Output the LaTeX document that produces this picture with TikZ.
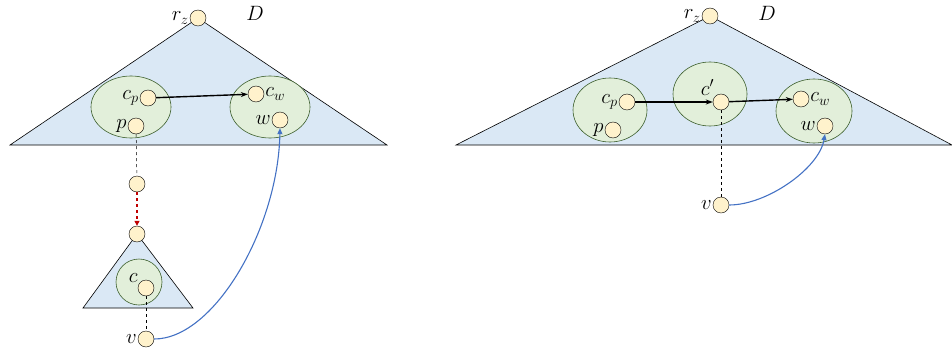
\documentclass[tikz,border=0pt]{standalone}
\usetikzlibrary{arrows.meta}
\definecolor{vfill}{HTML}{FFF2CC}
\definecolor{tfill}{HTML}{DAE8F5}
\definecolor{bfill}{HTML}{E2EFDA}
\definecolor{bdraw}{HTML}{3B5E2B}
\definecolor{curveblue}{HTML}{4472C4}
\definecolor{jumpred}{HTML}{C00000}
\begin{document}
\begin{tikzpicture}[x=1pt, y=-1pt,
    every label/.append style={font=\huge, inner sep=1pt},
    vtx/.style={circle, draw, fill=vfill, minimum size=16pt, inner sep=0pt,
                label distance=2.5pt},
    tri/.style={draw, fill=tfill, line width=0.6pt},
    bag/.style={draw=bdraw, fill=bfill, line width=0.6pt},
    treeedge/.style={-{Stealth[length=7pt,width=5pt]}, line width=1.4pt},
    chain/.style={dashed, line width=0.5pt},
    jump/.style={-{Triangle[length=5pt,width=5pt]}, dashed, line width=1.3pt, draw=jumpred},
    link/.style={-{Triangle[length=6pt,width=5pt]}, line width=1.1pt, draw=curveblue},
    lbl/.style={font=\huge}
]
\useasboundingbox (0,0) rectangle (952,353);

% left picture
\draw[tri] (198,18) -- (10,145) -- (387,145) -- cycle;
\draw[bag] (131,107) ellipse [x radius=40, y radius=31];
\draw[bag] (270,107) ellipse [x radius=40, y radius=31];
\draw[tri] (137,234) -- (83,308) -- (193,308) -- cycle;
\draw[bag] (139,282) ellipse [x radius=23, y radius=23];

\node[vtx, label=left:$r_z$]  (rzL) at (198,18)  {};
\node[lbl]                    (DL)  at (255,13)  {$D$};
\node[vtx, label=left:$c_p$]  (cpL) at (148,98)  {};
\node[vtx, label=left:$p$]    (pL)  at (136,126) {};
\node[vtx, label=right:$c_w$] (cwL) at (256,94)  {};
\node[vtx, label=left:$w$]    (wL)  at (280,120) {};
\node[vtx]                    (aL)  at (137,184) {};
\node[vtx]                    (bL)  at (137,234) {};
\node[vtx, label={[label distance=0pt]150:$c$}] (cL) at (146,288) {};
\node[vtx, label=left:$v$]    (vL)  at (146,339) {};

\draw[treeedge] (cpL) -- (cwL);
\draw[chain] (pL) -- (aL);
\draw[jump] (aL) -- (bL);
\draw[chain] (cL) -- (vL);
\draw[link] (vL.east) .. controls +(60,0) and +(-2,100) .. (wL.south);

% right picture
\draw[tri] (710,16) -- (456,145) -- (952,145) -- cycle;
\draw[bag] (610,110) ellipse [x radius=37, y radius=32];
\draw[bag] (710,94)  ellipse [x radius=37, y radius=32];
\draw[bag] (814,111) ellipse [x radius=38, y radius=32];

\node[vtx, label=left:$r_z$]  (rzR) at (710,16)  {};
\node[lbl]                    (DR)  at (767,13)  {$D$};
\node[vtx, label=left:$c_p$]  (cpR) at (627,102) {};
\node[vtx, label=left:$p$]    (pR)  at (613,130) {};
\node[vtx, label={[label distance=0pt]north west:$c'$}] (ccR) at (721,102) {};
\node[vtx, label=right:$c_w$] (cwR) at (801,99)  {};
\node[vtx, label=left:$w$]    (wR)  at (825,126) {};
\node[vtx, label=left:$v$]    (vR)  at (721,205) {};

\draw[treeedge] (cpR) -- (ccR);
\draw[treeedge] (ccR) -- (cwR);
\draw[chain] (ccR) -- (vR);
\draw[link] (vR.east) .. controls +(38,0) and +(-6,34) .. (wR.south);

\end{tikzpicture}
\end{document}
